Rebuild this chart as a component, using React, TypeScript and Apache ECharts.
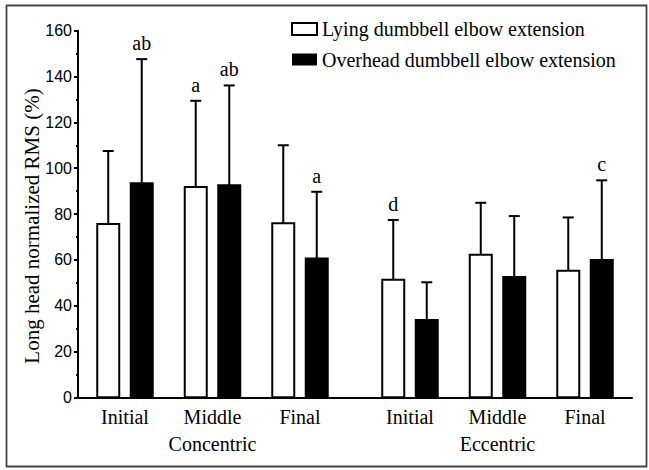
import React, { useEffect, useRef } from "react";
import * as echarts from "echarts";

const phases = ["Initial", "Middle", "Final"];
const contractions = ["Concentric", "Eccentric"];
const seriesNames = ["Lying dumbbell elbow extension", "Overhead dumbbell elbow extension"];
const lyingMean = [75.6, 91.8, 76.0, 51.3, 62.2, 55.2];
const lyingSD = [31.9, 37.6, 34.0, 26.1, 22.7, 23.3];
const lyingLetters = ["", "a", "", "d", "", ""];
const overheadMean = [93.4, 92.5, 60.6, 33.7, 52.5, 59.9];
const overheadSD = [54.2, 43.6, 29.1, 16.5, 26.6, 34.8];
const overheadLetters = ["ab", "ab", "a", "", "", "c"];
const yTicks = { min: 0, max: 160, interval: 20 };

const SERIF = "'Liberation Serif', 'Times New Roman', serif";
const SANS = "'Liberation Sans', Arial, sans-serif";

// layout in group units
const START = 0.537;
const GAP = 0.257;
const X_MAX = 6.331;
const OFFSET = 0.1914;
const HALF_W = 0.1257;

const groupPos = (i: number) => i + START + (i >= phases.length ? GAP : 0);
const positions = lyingMean.map((_, i) => groupPos(i));

function labelFor(v: number) {
  let best = 0;
  let bd = Infinity;
  positions.forEach((p, i) => {
    const d = Math.abs(p - v);
    if (d < bd) {
      bd = d;
      best = i;
    }
  });
  const phase = phases[best % phases.length];
  const c = contractions[Math.floor(best / phases.length)];
  return best % phases.length === 1 ? phase + "\n" + c : phase;
}

function makeRender(side: number, fill: string, letters: string[]) {
  return (params: any, api: any) => {
    const x = api.value(0);
    const y = api.value(1);
    const sd = api.value(2);
    const idx = api.value(3);
    const cx = x + side * OFFSET;
    const tl = api.coord([cx - HALF_W, y]);
    const br = api.coord([cx + HALF_W, 0]);
    const c = api.coord([cx, y]);
    const e = api.coord([cx, y + sd]);
    const children: any[] = [
      {
        type: "line",
        shape: { x1: c[0], y1: c[1], x2: e[0], y2: e[1] },
        style: { stroke: "#000", lineWidth: 2 },
      },
      {
        type: "line",
        shape: { x1: e[0] - 5.5, y1: e[1], x2: e[0] + 5.5, y2: e[1] },
        style: { stroke: "#000", lineWidth: 2 },
      },
      {
        type: "rect",
        shape: { x: tl[0], y: tl[1], width: br[0] - tl[0], height: br[1] - tl[1] },
        style: { fill, stroke: "#000", lineWidth: 2 },
      },
    ];
    const letter = letters[idx];
    if (letter) {
      children.push({
        type: "text",
        x: e[0],
        y: e[1] - 6,
        style: {
          text: letter,
          fill: "#000",
          font: `20px ${SERIF}`,
          textAlign: "center",
          textVerticalAlign: "bottom",
        },
      });
    }
    return { type: "group", children };
  };
}

export default function App() {
  const ref = useRef<HTMLDivElement>(null);
  useEffect(() => {
    if (!ref.current) return;
    const chart = echarts.init(ref.current, null, { renderer: "svg" });
    const lyingData = lyingMean.map((m, i) => [positions[i], m, lyingSD[i], i]);
    const overData = overheadMean.map((m, i) => [positions[i], m, overheadSD[i], i]);
    chart.setOption({
      animation: false,
      backgroundColor: "#fff",
      graphic: [
        {
          type: "rect",
          z: -10,
          shape: { x: 6.5, y: 5.5, width: 640, height: 461 },
          style: { fill: "none", stroke: "#444", lineWidth: 1.8 },
        },
      ],
      grid: { left: 78, right: 17, top: 30.7, bottom: 72.7 },
      legend: {
        orient: "vertical",
        left: 291,
        top: 19,
        padding: 0,
        itemWidth: 25,
        itemHeight: 12,
        itemGap: 10.5,
        textStyle: { fontFamily: SERIF, fontSize: 20, color: "#000", lineHeight: 20 },
        data: [
          { name: seriesNames[0], icon: "rect", itemStyle: { color: "#fff", borderColor: "#000", borderWidth: 2 } },
          { name: seriesNames[1], icon: "rect", itemStyle: { color: "#000", borderColor: "#000", borderWidth: 0 } },
        ],
      },
      xAxis: {
        type: "value",
        min: 0,
        max: X_MAX,
        splitLine: { show: false },
        axisLine: { show: true, lineStyle: { color: "#000", width: 2 } },
        axisTick: { show: false },
        axisLabel: {
          customValues: positions,
          formatter: (v: number) => labelFor(v),
          fontFamily: SERIF,
          fontSize: 20,
          lineHeight: 27,
          color: "#000",
          margin: 6,
        },
      },
      yAxis: {
        type: "value",
        min: yTicks.min,
        max: yTicks.max,
        interval: yTicks.interval,
        name: "Long head normalized RMS (%)",
        nameLocation: "middle",
        nameGap: 36,
        nameMoveOverlap: false,
        nameTextStyle: { fontFamily: SERIF, fontSize: 21, color: "#000", padding: [0, 24, 0, 0] },
        splitLine: { show: false },
        axisLine: { show: true, lineStyle: { color: "#000", width: 2 } },
        axisTick: { show: true, length: 4, lineStyle: { color: "#000", width: 2 } },
        minorTick: { show: true, splitNumber: 2, length: 2, lineStyle: { color: "#000", width: 2 } },
        axisLabel: { fontFamily: SANS, fontSize: 16, color: "#000", margin: 6 },
      },
      series: [
        {
          name: seriesNames[0],
          type: "custom",
          itemStyle: { color: "#fff", borderColor: "#000", borderWidth: 2 },
          renderItem: makeRender(-1, "#fff", lyingLetters),
          encode: { x: 0, y: 1 },
          data: lyingData,
          z: 2,
        },
        {
          name: seriesNames[1],
          type: "custom",
          itemStyle: { color: "#000" },
          renderItem: makeRender(1, "#000", overheadLetters),
          encode: { x: 0, y: 1 },
          data: overData,
          z: 2,
        },
      ],
    });
    return () => chart.dispose();
  }, []);
  return (
    <div
      ref={ref}
      style={{ position: "absolute", left: 0, top: 0, width: 649, height: 470 }}
    />
  );
}
